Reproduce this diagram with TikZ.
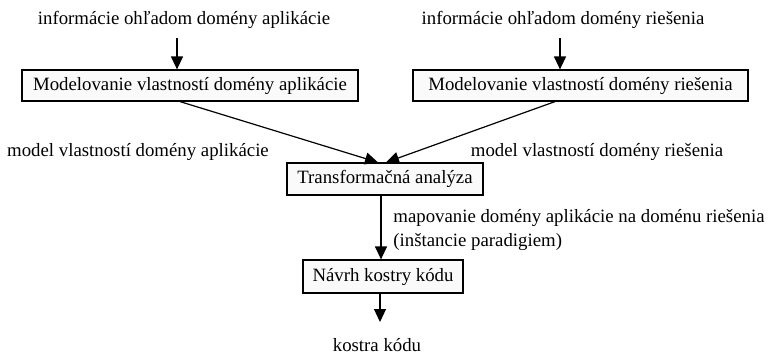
\documentclass[tikz,border=0pt]{standalone}
\usepackage{fontspec}
\setmainfont{Liberation Serif}
\usetikzlibrary{arrows.meta}
\begin{document}
\begin{tikzpicture}[x=0.5pt,y=-0.5pt,
  every node/.style={font=\fontsize{9.4}{11.6}\selectfont, inner sep=0pt},
  procbox/.style={draw, line width=0.6pt, fill=black!2, minimum height=15.5pt},
  arr/.style={line width=0.6pt, -{Triangle[width=6pt,length=6.5pt]}},
  ln/.style={line width=0.6pt}]
\useasboundingbox (0,0) rectangle (768,354);
% texts
\node (t1) at (184,20) {informácie ohľadom domény aplikácie};
\node (t2) at (563,20) {informácie ohľadom domény riešenia};
% boxes
\node[procbox, minimum width=168pt] (b1) at (190,85.5) {Modelovanie vlastností domény aplikácie};
\node[procbox, minimum width=167.5pt] (b2) at (580.5,85.5) {Modelovanie vlastností domény riešenia};
\node[procbox, minimum width=98pt, minimum height=16pt] (b3) at (385,179) {Transformačná analýza};
\node[procbox, minimum width=80pt, minimum height=16.5pt] (b4) at (383,276.5) {Návrh kostry kódu};
% labels
\node (l1) at (138,152) {model vlastností domény aplikácie};
\node (l2) at (597,152) {model vlastností domény riešenia};
\node[anchor=west, align=left] (l3) at (393,230) {mapovanie domény aplikácie na doménu riešenia\\(inštancie paradigiem)};
\node (out) at (377,345) {kostra kódu};
% connector ends
\coordinate (a1) at (177,38);
\coordinate (a2) at (560,38);
\coordinate (d1) at (180,101);
\coordinate (d2) at (555,101);
\coordinate (tip1) at (378,163);
\coordinate (tip2) at (386,163);
\coordinate (v1) at (381,195);
\coordinate (v2) at (380,322);
% connectors
\draw[arr] (a1) -- (a1 |- b1.north);
\draw[arr] (a2) -- (a2 |- b2.north);
\draw[arr] (d1 |- b1.south) -- (tip1 |- b3.north);
\draw[arr] (d2 |- b2.south) -- (tip2 |- b3.north);
\draw[arr] (v1 |- b3.south) -- (v1 |- b4.north);
\draw[arr] (v2 |- b4.south) -- (v2);
\end{tikzpicture}
\end{document}
